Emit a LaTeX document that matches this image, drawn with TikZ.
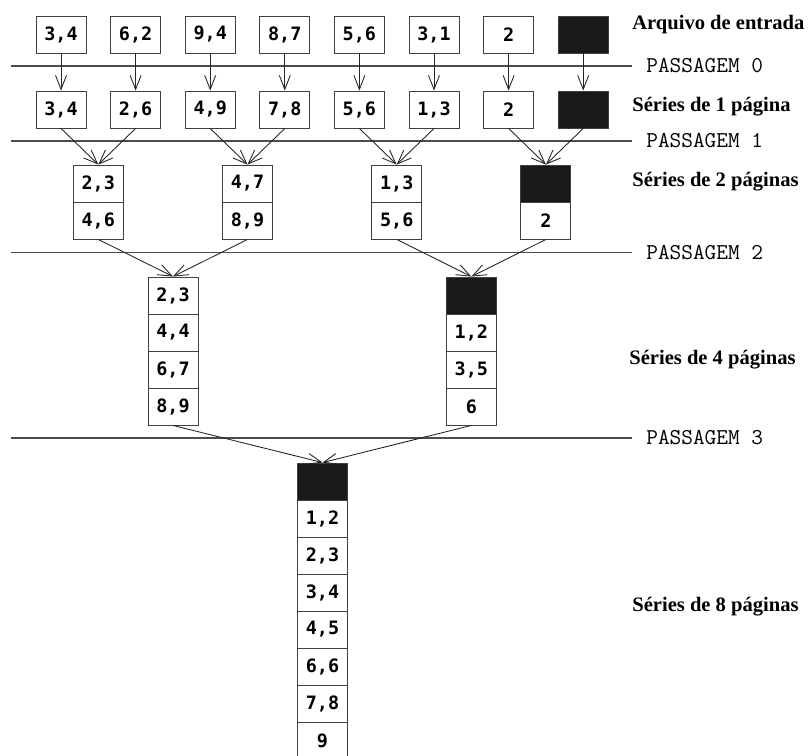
\documentclass[tikz,border=0pt]{standalone}
\usepackage{fontspec}
\setmainfont{Liberation Serif}
\newfontfamily\cellfont{DejaVu Sans Mono}
\usetikzlibrary{positioning, arrows.meta}
\tikzstyle{cell} = [rectangle, draw=black!75, line width=0.5pt, minimum width=1cm, minimum height=0.74cm, inner sep=0pt, text centered, font=\cellfont\bfseries\fontsize{10.5}{12}\selectfont]
\tikzstyle{blank} = [cell, fill=black!90]
\tikzstyle{arrow} = [line width=0.5pt, draw=black!85, -{Straight Barb[length=2.8mm,width=2.2mm]}]
\tikzstyle{pass} = [line width=0.6pt, draw=black!70]
\tikzstyle{passlabel} = [anchor=west, inner sep=0pt, font=\ttfamily\fontsize{12.9}{15}\selectfont]
\tikzstyle{serieslabel} = [anchor=west, inner sep=0pt, font=\bfseries\fontsize{11.7}{14}\selectfont]

\begin{document}
\begin{tikzpicture}[node distance=0.74cm and 1.492cm, on grid]
\useasboundingbox (0,0) rectangle (16.24,-15.12);
% arquivo de entrada
\node (e1) [cell] at (1.22,-0.69) {3,4};
\node (e2) [cell, right=of e1] {6,2};
\node (e3) [cell, right=of e2] {9,4};
\node (e4) [cell, right=of e3] {8,7};
\node (e5) [cell, right=of e4] {5,6};
\node (e6) [cell, right=of e5] {3,1};
\node (e7) [cell, right=of e6] {2};
\node (e8) [blank, right=of e7] {};
% series de 1 pagina
\node (p1) [cell, below=1.5cm of e1] {3,4};
\node (p2) [cell, right=of p1] {2,6};
\node (p3) [cell, right=of p2] {4,9};
\node (p4) [cell, right=of p3] {7,8};
\node (p5) [cell, right=of p4] {5,6};
\node (p6) [cell, right=of p5] {1,3};
\node (p7) [cell, right=of p6] {2};
\node (p8) [blank, right=of p7] {};
% series de 2 paginas
\node (d1a) [cell] at (1.966,-3.67) {2,3};
\node (d1b) [cell, below=of d1a] {4,6};
\node (d2a) [cell, right=2.984cm of d1a] {4,7};
\node (d2b) [cell, below=of d2a] {8,9};
\node (d3a) [cell, right=2.984cm of d2a] {1,3};
\node (d3b) [cell, below=of d3a] {5,6};
\node (d4a) [blank, right=2.984cm of d3a] {};
\node (d4b) [cell, below=of d4a] {2};
% series de 4 paginas
\node (q1a) [cell] at (3.46,-5.91) {2,3};
\node (q1b) [cell, below=of q1a] {4,4};
\node (q1c) [cell, below=of q1b] {6,7};
\node (q1d) [cell, below=of q1c] {8,9};
\node (q2a) [blank, right=5.968cm of q1a] {};
\node (q2b) [cell, below=of q2a] {1,2};
\node (q2c) [cell, below=of q2b] {3,5};
\node (q2d) [cell, below=of q2c] {6};
% series de 8 paginas
\node (o1) [blank] at (6.45,-9.63) {};
\node (o2) [cell, below=of o1] {1,2};
\node (o3) [cell, below=of o2] {2,3};
\node (o4) [cell, below=of o3] {3,4};
\node (o5) [cell, below=of o4] {4,5};
\node (o6) [cell, below=of o5] {6,6};
\node (o7) [cell, below=of o6] {7,8};
\node (o8) [cell, below=of o7] {9};
% passagens
\draw [pass] (0.22,-1.32) -- (12.64,-1.32);
\draw [pass] (0.22,-2.82) -- (12.64,-2.82);
\draw [pass] (0.22,-5.05) -- (12.64,-5.05);
\draw [pass] (0.22,-8.76) -- (12.64,-8.76);
\node (pass0) [passlabel] at (12.92,-1.32) {PASSAGEM 0};
\node (pass1) [passlabel] at (12.92,-2.82) {PASSAGEM 1};
\node (pass2) [passlabel] at (12.92,-5.05) {PASSAGEM 2};
\node (pass3) [passlabel] at (12.92,-8.76) {PASSAGEM 3};
% rotulos
\node (lab0) [serieslabel] at (12.64,-0.5) {Arquivo de entrada};
\node (lab1) [serieslabel] at (12.64,-2.14) {Séries de 1 página};
\node (lab2) [serieslabel] at (12.64,-3.64) {Séries de 2 páginas};
\node (lab4) [serieslabel] at (12.58,-7.2) {Séries de 4 páginas};
\node (lab8) [serieslabel] at (12.64,-12.14) {Séries de 8 páginas};
% setas
\draw [arrow] (e1) -- (p1);
\draw [arrow] (e2) -- (p2);
\draw [arrow] (e3) -- (p3);
\draw [arrow] (e4) -- (p4);
\draw [arrow] (e5) -- (p5);
\draw [arrow] (e6) -- (p6);
\draw [arrow] (e7) -- (p7);
\draw [arrow] (e8) -- (p8);
\draw [arrow] (p1.south) -- (d1a.north);
\draw [arrow] (p2.south) -- (d1a.north);
\draw [arrow] (p3.south) -- (d2a.north);
\draw [arrow] (p4.south) -- (d2a.north);
\draw [arrow] (p5.south) -- (d3a.north);
\draw [arrow] (p6.south) -- (d3a.north);
\draw [arrow] (p7.south) -- (d4a.north);
\draw [arrow] (p8.south) -- (d4a.north);
\draw [arrow] (d1b.south) -- (q1a.north);
\draw [arrow] (d2b.south) -- (q1a.north);
\draw [arrow] (d3b.south) -- (q2a.north);
\draw [arrow] (d4b.south) -- (q2a.north);
\draw [arrow] (q1d.south) -- (o1.north);
\draw [arrow] (q2d.south) -- (o1.north);
\end{tikzpicture}
\end{document}
